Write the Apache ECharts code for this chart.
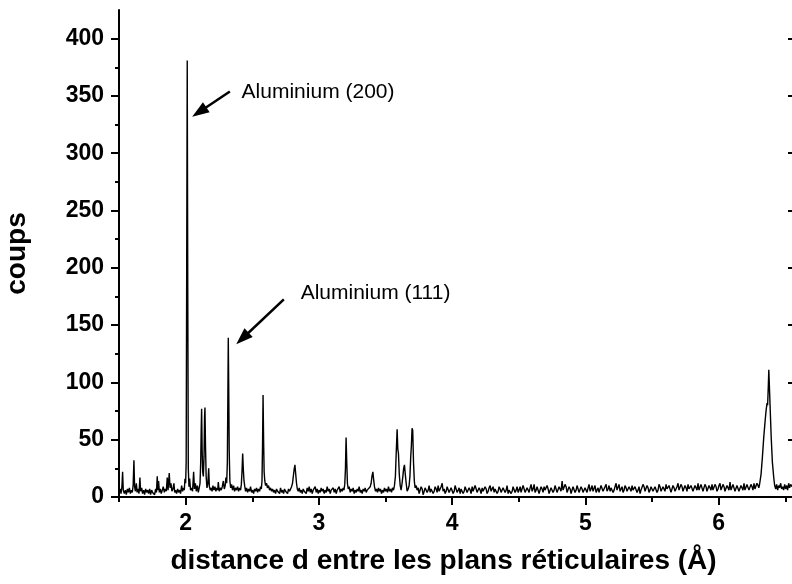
<!DOCTYPE html>
<html><head><meta charset="utf-8">
<script src="https://cdn.jsdelivr.net/npm/echarts@6/dist/echarts.min.js"></script>
<style>html,body{margin:0;padding:0;background:#fff}#chart{width:792px;height:584px}</style>
</head><body><div id="chart"></div>
<script>
// d-spacing (Å), counts
const scanPoints = [
[1.500,4],[1.508,7],[1.515,3],[1.522,9],[1.527,22],[1.532,6],[1.540,3],[1.548,6],[1.555,2],[1.563,7],[1.570,4],[1.578,8],[1.585,3],[1.593,6],[1.600,4],[1.606,10],[1.612,32],[1.617,9],[1.623,5],[1.630,12],[1.636,4],[1.643,7],[1.650,3],[1.657,17],[1.662,5],[1.670,8],[1.677,3],[1.685,6],[1.692,2],[1.700,7],[1.707,4],[1.715,6],[1.722,3],[1.730,7],[1.737,2],[1.745,6],[1.752,4],[1.760,5],[1.767,2],[1.775,7],[1.781,4],[1.787,18],[1.792,6],[1.797,14],[1.803,4],[1.810,7],[1.817,3],[1.825,6],[1.832,9],[1.840,4],[1.847,7],[1.855,5],[1.862,17],[1.868,6],[1.877,21],[1.883,8],[1.890,12],[1.897,5],[1.905,7],[1.912,12],[1.918,4],[1.925,6],[1.932,3],[1.940,7],[1.947,4],[1.955,6],[1.962,3],[1.970,10],[1.977,5],[1.985,8],[1.990,6],[1.995,16],[2.000,12],[2.004,30],[2.008,200],[2.012,381],[2.016,180],[2.020,25],[2.025,9],[2.030,16],[2.037,6],[2.045,8],[2.052,5],[2.060,22],[2.066,7],[2.073,12],[2.080,5],[2.088,10],[2.095,4],[2.102,8],[2.108,12],[2.113,30],[2.117,60],[2.120,77],[2.124,40],[2.128,22],[2.133,18],[2.138,35],[2.142,70],[2.145,78],[2.149,45],[2.154,18],[2.160,8],[2.167,12],[2.173,25],[2.178,9],[2.185,6],[2.192,8],[2.198,5],[2.205,10],[2.212,6],[2.220,9],[2.227,5],[2.235,8],[2.241,6],[2.245,13],[2.252,5],[2.260,8],[2.267,6],[2.275,9],[2.283,14],[2.290,7],[2.297,10],[2.302,17],[2.308,12],[2.313,30],[2.317,90],[2.320,139],[2.323,100],[2.327,40],[2.332,14],[2.338,8],[2.345,11],[2.352,6],[2.360,10],[2.367,5],[2.375,8],[2.382,6],[2.390,9],[2.397,5],[2.405,8],[2.412,6],[2.418,11],[2.423,22],[2.428,38],[2.433,24],[2.438,14],[2.444,9],[2.450,5],[2.457,8],[2.465,4],[2.472,7],[2.480,5],[2.487,9],[2.495,4],[2.502,6],[2.510,3],[2.517,7],[2.525,5],[2.532,8],[2.540,4],[2.547,7],[2.555,5],[2.562,9],[2.568,7],[2.573,14],[2.577,45],[2.581,89],[2.585,50],[2.589,22],[2.594,14],[2.600,10],[2.607,12],[2.614,8],[2.622,10],[2.630,6],[2.637,8],[2.645,5],[2.652,7],[2.660,4],[2.667,6],[2.675,3],[2.682,7],[2.690,5],[2.697,6],[2.705,3],[2.712,8],[2.720,4],[2.727,6],[2.735,3],[2.742,7],[2.750,5],[2.757,6],[2.765,3],[2.772,7],[2.780,5],[2.787,6],[2.795,9],[2.802,12],[2.808,18],[2.814,24],[2.820,28],[2.826,20],[2.832,12],[2.838,7],[2.845,5],[2.852,8],[2.860,4],[2.867,6],[2.875,3],[2.882,7],[2.890,5],
[2.897,6],[2.905,3],[2.912,8],[2.920,5],[2.927,9],[2.935,4],[2.942,7],[2.950,3],[2.957,6],[2.965,5],[2.972,9],[2.980,4],[2.987,7],[2.995,3],[3.002,6],[3.010,4],[3.017,8],[3.025,5],[3.032,7],[3.040,3],[3.047,6],[3.055,4],[3.062,9],[3.070,5],[3.077,7],[3.085,3],[3.092,6],[3.100,5],[3.107,8],[3.115,4],[3.122,7],[3.130,3],[3.137,6],[3.145,5],[3.152,9],[3.160,4],[3.167,7],[3.175,5],[3.182,8],[3.188,6],[3.194,11],[3.199,24],[3.204,52],[3.209,30],[3.214,12],[3.220,7],[3.227,9],[3.235,4],[3.242,7],[3.250,5],[3.257,8],[3.265,3],[3.272,6],[3.280,4],[3.287,7],[3.295,5],[3.302,9],[3.310,4],[3.317,6],[3.325,3],[3.332,7],[3.340,5],[3.347,8],[3.355,4],[3.362,6],[3.370,5],[3.377,7],[3.385,9],[3.392,12],[3.398,18],[3.405,22],[3.411,15],[3.417,9],[3.425,5],[3.432,7],[3.440,4],[3.447,8],[3.455,5],[3.462,7],[3.470,3],[3.477,6],[3.485,4],[3.492,8],[3.500,5],[3.507,7],[3.515,4],[3.522,9],[3.530,5],[3.537,7],[3.545,4],[3.552,8],[3.560,6],[3.567,10],[3.574,18],[3.580,38],[3.587,59],[3.592,42],[3.597,38],[3.603,20],[3.610,10],[3.617,6],[3.624,12],[3.630,18],[3.636,25],[3.642,28],[3.648,20],[3.655,12],[3.662,5],[3.670,7],[3.677,10],[3.683,18],[3.689,35],[3.694,45],[3.699,60],[3.704,58],[3.710,30],[3.716,14],[3.722,8],[3.730,10],[3.737,6],
[3.745,8],[3.752,3],[3.760,4],[3.767,9],[3.775,7],[3.782,2],[3.790,5],[3.797,8],[3.805,9],[3.812,4],[3.820,6],[3.827,10],[3.835,4],[3.842,7],[3.850,8],[3.857,3],[3.865,5],[3.872,9],[3.880,7],[3.887,4],[3.895,10],[3.902,5],[3.910,6],[3.917,9],[3.925,12],[3.932,5],[3.940,7],[3.947,3],[3.955,5],[3.962,9],[3.970,8],[3.977,4],[3.985,4],[3.992,8],[4.000,7],[4.007,3],[4.015,5],[4.022,10],[4.030,9],[4.037,4],[4.045,6],[4.052,8],[4.060,3],[4.067,7],[4.075,7],[4.082,3],[4.090,5],[4.097,9],[4.105,8],[4.112,4],[4.120,4],[4.127,8],[4.135,6],[4.142,3],[4.150,9],[4.157,5],[4.165,5],[4.172,10],[4.180,7],[4.187,4],[4.195,3],[4.202,8],[4.210,6],[4.217,3],[4.225,8],[4.232,5],[4.240,4],[4.247,9],[4.255,7],[4.262,3],[4.270,5],[4.277,8],[4.285,10],[4.292,5],[4.300,6],[4.307,9],[4.315,4],[4.322,7],[4.330,8],[4.337,3],[4.345,5],[4.352,9],[4.360,7],[4.367,4],[4.375,4],[4.382,8],[4.390,9],[4.397,4],[4.405,6],[4.412,10],[4.420,3],[4.427,6],[4.435,7],[4.442,3],[4.450,5],[4.457,9],[4.465,8],[4.472,4],[4.480,6],[4.487,9],[4.495,4],[4.502,6],[4.510,9],[4.517,4],[4.525,5],[4.532,10],[4.540,7],[4.547,4],[4.555,3],[4.562,8],[4.570,6],[4.577,4],[4.585,8],[4.592,11],[4.600,5],[4.607,7],[4.615,11],[4.622,4],[4.630,6],[4.637,9],[4.645,8],[4.652,3],[4.660,4],[4.667,9],[4.675,7],[4.682,4],[4.690,9],[4.697,6],[4.705,5],[4.712,10],[4.720,7],[4.727,3],[4.735,4],[4.742,8],[4.750,8],[4.757,4],[4.765,6],[4.772,10],[4.780,10],[4.787,4],[4.795,5],[4.802,9],[4.810,8],[4.817,5],[4.825,14],[4.832,6],[4.840,7],[4.847,11],[4.855,9],[4.862,4],[4.870,5],[4.877,9],[4.885,7],[4.892,3],[4.900,4],[4.907,9],[4.915,8],[4.922,4],[4.930,6],[4.937,10],[4.945,9],[4.952,4],[4.960,5],[4.967,9],[4.975,7],[4.982,4],[4.990,3],[4.997,8],[5.005,6],[5.012,4],[5.020,8],[5.027,11],[5.035,5],[5.042,7],[5.050,10],[5.057,5],[5.065,6],[5.072,10],[5.080,4],[5.087,6],[5.095,8],[5.102,4],[5.110,5],[5.117,10],[5.125,9],[5.132,5],[5.140,6],[5.147,9],[5.155,11],[5.162,5],[5.170,7],[5.177,10],[5.185,5],[5.192,8],[5.200,9],[5.207,4],[5.215,6],[5.222,9],[5.230,12],[5.237,6],[5.245,7],[5.252,11],[5.260,5],[5.267,7],[5.275,9],[5.282,4],[5.290,6],[5.297,10],[5.305,8],[5.312,5],[5.320,4],[5.327,9],[5.335,7],[5.342,5],[5.350,10],[5.357,6],[5.365,5],[5.372,9],[5.380,8],[5.387,4],[5.395,6],[5.402,9],[5.410,3],[5.417,6],[5.425,7],[5.432,11],[5.440,9],[5.447,5],[5.455,5],[5.462,10],[5.470,8],[5.477,4],[5.485,6],[5.492,9],[5.500,10],[5.507,5],[5.515,5],[5.522,9],[5.530,8],[5.537,4],[5.545,6],[5.552,11],[5.560,9],[5.567,5],[5.575,4],[5.582,9],[5.590,8],[5.597,5],[5.605,11],[5.612,7],[5.620,6],[5.627,10],[5.635,9],[5.642,4],[5.650,5],[5.657,10],[5.665,8],[5.672,5],[5.680,6],[5.687,9],[5.695,12],[5.702,6],[5.710,7],[5.717,11],[5.725,9],[5.732,5],[5.740,5],[5.747,10],[5.755,8],[5.762,5],[5.770,11],[5.777,7],[5.785,6],[5.792,10],[5.800,9],[5.807,5],[5.815,5],[5.822,10],[5.830,8],[5.837,6],[5.845,12],[5.852,6],[5.860,7],[5.867,11],[5.875,10],[5.882,5],[5.890,6],[5.897,11],[5.905,9],[5.912,5],[5.920,5],[5.927,10],[5.935,8],[5.942,6],[5.950,11],[5.957,6],[5.965,6],[5.972,11],[5.980,9],[5.987,5],[5.995,7],[6.002,10],[6.010,12],[6.017,6],[6.025,6],[6.032,11],[6.040,9],[6.047,5],[6.055,5],[6.062,10],[6.070,8],[6.077,6],[6.085,13],[6.092,6],[6.100,7],[6.107,11],[6.115,10],[6.122,5],[6.130,6],[6.137,10],[6.145,9],[6.152,5],[6.160,5],[6.167,10],[6.175,8],[6.182,6],[6.190,12],[6.197,6],[6.205,7],[6.212,11],[6.220,10],[6.227,6],[6.235,6],[6.242,11],[6.250,9],[6.257,6],[6.265,12],[6.272,7],[6.280,7],[6.287,12],[6.295,10],[6.301,8],
[6.308,12],[6.318,20],[6.328,35],[6.338,52],[6.348,66],[6.356,76],[6.363,82],[6.367,80],[6.372,96],[6.376,111],[6.380,98],[6.386,78],[6.394,52],[6.403,30],[6.413,17],[6.420,10],[6.428,7],[6.435,11],[6.442,6],[6.450,10],[6.457,8],[6.465,12],[6.472,7],[6.480,9],[6.487,6],[6.495,11],[6.502,7],[6.510,10],[6.517,6],[6.525,12],[6.532,8],[6.540,11],[6.550,9]
];
const xMajorTicks = [2, 3, 4, 5, 6];
const xMinorTicks = [1.5, 2.5, 3.5, 4.5, 5.5, 6.5];
const yMajorTicks = [0, 50, 100, 150, 200, 250, 300, 350, 400];
const yMinorTicks = [25, 75, 125, 175, 225, 275, 325, 375];
const xTitle = 'distance d entre les plans réticulaires (Å)';
const yTitle = 'coups';
const annotationTexts = ['Aluminium (200)', 'Aluminium (111)'];
const annotationTextAt = [[2.420, 353.4], [2.863, 177.7]];
const arrowFrom = [[2.332, 353.9], [2.737, 172.5]];
const arrowTo = [[2.102, 336.0], [2.426, 138.3]];

const FONT = '"Liberation Sans", Arial, Helvetica, sans-serif';
const chart = echarts.init(document.getElementById('chart'), null, {renderer: 'canvas'});
const axisLineStyle = {color: '#000', width: 2};
chart.setOption({
  animation: false,
  backgroundColor: '#fff',
  grid: {left: 119, right: 0, top: 10, bottom: 87, containLabel: false, outerBoundsMode: 'none'},
  xAxis: [{
    type: 'value', min: 1.5, max: 6.55, position: 'bottom',
    axisLine: {show: true, onZero: false, lineStyle: axisLineStyle},
    axisTick: {show: true, inside: false, length: 8, customValues: xMajorTicks, lineStyle: axisLineStyle},
    axisLabel: {show: true, customValues: xMajorTicks, margin: 15, color: '#000', fontSize: 23, fontWeight: 'bold', fontFamily: FONT},
    splitLine: {show: false},
    name: xTitle, nameLocation: 'middle', nameGap: 50,
    nameTextStyle: {color: '#000', fontSize: 28, fontWeight: 'bold', fontFamily: FONT, padding: [0, 24, 0, 0]}
  }, {
    type: 'value', min: 1.5, max: 6.55, position: 'bottom',
    axisLine: {show: false},
    axisTick: {show: true, inside: false, length: 5, customValues: xMinorTicks, lineStyle: axisLineStyle},
    axisLabel: {show: false},
    splitLine: {show: false}
  }],
  yAxis: [{
    type: 'value', min: 0, max: 425, position: 'left',
    axisLine: {show: true, onZero: false, lineStyle: axisLineStyle},
    axisTick: {show: true, inside: false, length: 8, customValues: yMajorTicks, lineStyle: axisLineStyle},
    axisLabel: {show: true, customValues: yMajorTicks, margin: 15, color: '#000', fontSize: 23, fontWeight: 'bold', fontFamily: FONT},
    splitLine: {show: false},
    name: yTitle, nameLocation: 'middle', nameGap: 88,
    nameTextStyle: {color: '#000', fontSize: 28, fontWeight: 'bold', fontFamily: FONT}
  }, {
    type: 'value', min: 0, max: 425, position: 'left',
    axisLine: {show: false},
    axisTick: {show: true, inside: false, length: 4, customValues: yMinorTicks, lineStyle: axisLineStyle},
    axisLabel: {show: false},
    splitLine: {show: false}
  }, {
    type: 'value', min: 0, max: 425, position: 'right',
    axisLine: {show: false},
    axisTick: {show: true, inside: true, length: 4, customValues: yMajorTicks, lineStyle: axisLineStyle},
    axisLabel: {show: false},
    splitLine: {show: false}
  }],
  series: [{
    type: 'line', xAxisIndex: 0, yAxisIndex: 0,
    data: scanPoints, showSymbol: false, symbol: 'none',
    lineStyle: {color: '#000', width: 1.4},
    silent: true,
    markLine: {
      silent: true, animation: false,
      symbol: ['none', 'triangle'], symbolSize: [12, 17],
      lineStyle: {color: '#000', width: 2.5, type: 'solid'},
      itemStyle: {color: '#000'},
      label: {show: false},
      emphasis: {disabled: true},
      data: arrowFrom.map((f, i) => [{coord: f}, {coord: arrowTo[i]}])
    },
    markPoint: {
      silent: true, animation: false,
      symbol: 'circle', symbolSize: 0,
      label: {show: true, position: 'right', distance: 0, color: '#000', fontSize: 21, fontFamily: FONT, formatter: p => p.name},
      data: annotationTexts.map((t, i) => ({name: t, coord: annotationTextAt[i]}))
    }
  }]
});
</script></body></html>
